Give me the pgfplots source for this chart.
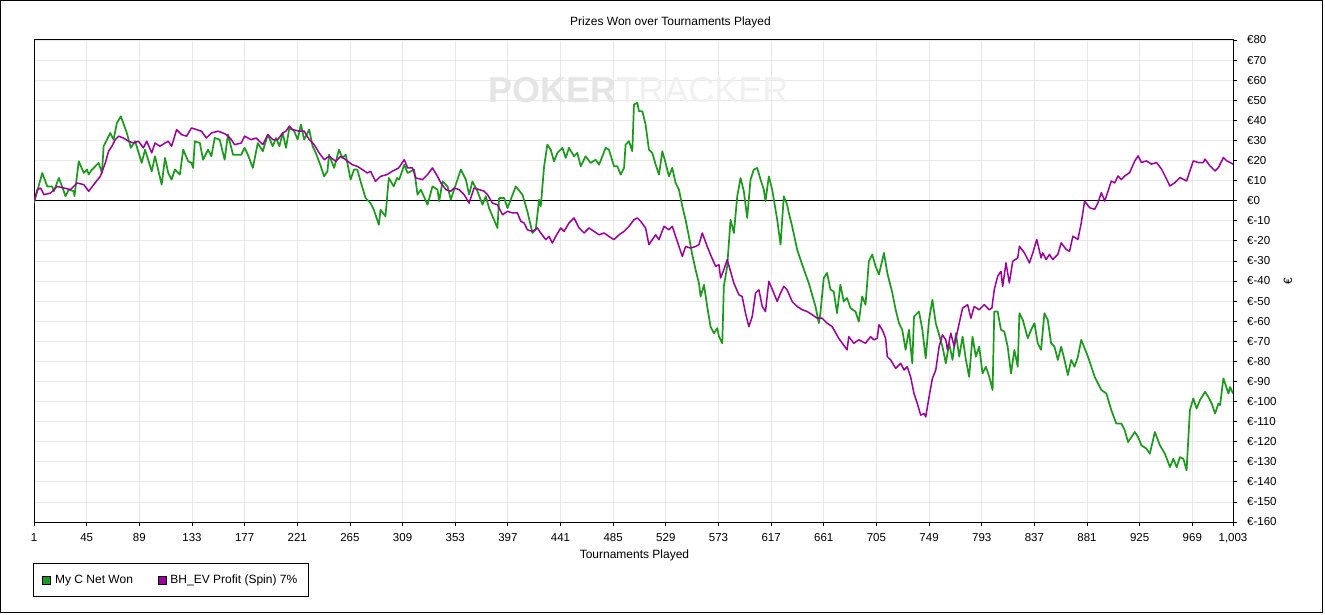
\documentclass[border=0pt]{standalone}
\usepackage{fontspec}
\setmainfont{Liberation Sans}
\usepackage{pgfplots}
\pgfplotsset{compat=1.18}
\definecolor{cgreen}{RGB}{26,154,26}
\definecolor{cpurple}{RGB}{158,0,158}
\definecolor{cgrid}{RGB}{232,232,232}
\begin{document}
\begin{tikzpicture}[x=1pt,y=1pt]
\path[use as bounding box] (-34,-92) rectangle (1291,522);
\draw[black, line width=1pt] (-33,-90.5) rectangle (1288.5,521);
\begin{axis}[
  at={(0,0)}, anchor=south west,
  scale only axis, width=1199pt, height=482pt,
  xmin=1, xmax=1003, ymin=-160, ymax=80,
  xtick={1,45,89,133,177,221,265,309,353,397,441,485,529,573,617,661,705,749,793,837,881,925,969,1003},
  xticklabels={1,45,89,133,177,221,265,309,353,397,441,485,529,573,617,661,705,749,793,837,881,925,969,{1,003}},
  ytick={-160,-150,...,80},
  yticklabel={€\pgfmathprintnumber{\tick}},
  /pgf/number format/assume math mode=true,
  yticklabel pos=right,
  xtick pos=bottom, ytick pos=right,
  tick align=outside,
  major tick length=4pt,
  grid=major, major grid style={cgrid, line width=0.8pt},
  axis line style={black, line width=1pt},
  tick style={black, line width=0.8pt},
  font=\fontsize{12}{14}\selectfont,
  tick label style={font=\fontsize{11.5}{13}\selectfont},
  xticklabel style={anchor=north, inner sep=0pt, yshift=-7pt},
  yticklabel style={anchor=west, inner sep=0pt, xshift=10pt},
  title={Prizes Won over Tournaments Played},
  every axis title/.style={at={(axis description cs:0.5,1)}, anchor=center, xshift=37pt, yshift=18pt},
  xlabel={Tournaments Played},
  every axis x label/.style={at={(axis description cs:0.5,0)}, anchor=center, xshift=1pt, yshift=-33pt},
  ylabel={€},
  every axis y label/.style={at={(axis description cs:1,0.5)}, anchor=center, xshift=55pt, rotate=90},
  legend columns=2,
  legend style={at={(axis description cs:0,0)}, anchor=north west, xshift=-1pt, yshift=-41pt,
    draw=black, line width=1pt, inner xsep=9pt, inner ysep=9.5pt,
    font=\fontsize{12}{14}\selectfont,
    /tikz/every even column/.append style={column sep=23pt}},
]
\node[font=\fontsize{36}{36}\selectfont\bfseries, inner sep=0pt] at (rel axis cs:0.504,0.896)
  {{\color{black!10}POKER}{\color{black!6}\mdseries TRACKER}};
\draw[black, line width=1pt] (axis cs:1,0) -- (axis cs:1003,0);
\addplot[cgreen, line width=1.7pt, line join=round,
  legend image code/.code={\draw[black, fill=cgreen, line width=0.6pt] (0pt,-4pt) rectangle (8pt,4pt); \path (9.5pt,0pt);}]
  coordinates {
(1,-1.2)(7.9,13.8)(12.1,7.1)(16.2,7.1)(17.6,4.7)(21.8,11.3)(25.9,4.7)(27.3,2.2)(30.1,5.5)(34.3,4.7)(34.8,2.2)
(38.4,19.6)(42.6,13.8)(45.3,15.5)(46.7,13)(49.5,15.5)(55,18.8)(57.8,13.8)(59.2,27.1)(64.7,33.7)(67.5,30.4)
(70.3,38.7)(73.6,42)(78.6,33.7)(81.9,26.3)(85.5,29.6)(91,18.8)(93.8,25.4)(99.4,14.6)(102.1,22.1)(107.7,8)
(110.5,21.3)(113.2,13.8)(116,10.5)(118.8,15.5)(122.9,13)(125.7,25.4)(129.9,19.6)(132.6,18.8)(134,16.3)
(135.4,29.6)(139.6,28.7)(142.3,20.4)(146.5,25.4)(149.2,22.1)(152,31.2)(156.2,30.4)(160.3,20.4)(163.1,32.9)
(167.3,22.9)(174.2,22.9)(177,26.3)(179.7,22.9)(183.9,16.3)(188,28.7)(192.2,24.6)(196.4,32.9)(200.5,27.1)
(203.3,31.2)(206.1,27.1)(208.8,33.7)(211.6,26.3)(214.4,36.2)(218.5,34.6)(221.3,30.4)(224.1,37.9)(226.8,30.4)
(231,35.4)(233.8,27.1)(236.5,23.8)(240.7,17.1)(243.5,12.1)(246.2,14.6)(247.6,22.9)(251.8,16.3)(255.9,25.4)
(258.7,21.3)(261.5,22.9)(265.6,10.5)(268.4,15.5)(271.2,15.5)(273.9,9.6)(278.1,1.3)(282.3,-1.2)(285,-4.5)
(289.2,-12)(290.6,-4.5)(294.7,-7.8)(297.5,11.3)(301.6,7.1)(304.4,11.3)
(306.2,10.5)(310.4,17.9)(313.2,13.8)(318.7,15.5)(321.5,3)(324.3,5.5)(329.9,-2)(334,7.1)(338.2,5.5)(339.6,-0.3)
(342.4,9.6)(346.6,7.1)(349.3,0.5)(352.1,5.5)(357.7,15.5)(361.9,10.5)(364.6,3)(367.4,9.6)(371.6,4.7)(375.8,-2)
(378.6,2.2)(381.3,-3.7)(388.3,-13.6)(389.7,1.3)(393.9,1.3)(396.7,-3.7)(399.4,0.5)(403.6,7.1)(409.2,3)(413.3,-5.3)
(417.5,-16.1)(420.3,-14.5)(423.1,0.5)(424.5,-2.8)(427.3,17.1)(430,27.9)(432.8,25.4)(435.6,19.6)(438.4,23.8)
(442.6,26.3)(445.4,21.3)(448.1,26.3)(452.3,22.1)(455.1,23.8)(457.9,17.1)(462,22.1)(466.2,18.8)(470.4,20.4)
(473.2,17.9)(476,22.1)(478.7,26.3)(481.5,25.4)(485.7,17.1)(488.5,17.1)(491.3,13)(494.1,16.3)(495.4,27.9)
(498.2,29.6)(501,24.6)(502.4,47.9)(505.2,48.7)(506.6,44.5)(509.4,44.5)(512.1,37.9)(514.9,25.4)(517.7,23.8)
(520.5,17.9)(523.3,13)(526.1,24.6)(528.8,18.8)(531.6,12.1)(534.4,16.3)(537.2,8.8)(540,5.5)(542.8,-2.8)
(545.5,-9.5)(548.3,-17.8)(551.1,-26.9)(553.9,-34.4)(556.7,-41.1)(558.1,-47.7)(560.9,-41.9)(563.6,-52.7)
(566.4,-62.7)(569.2,-66)(572,-63.5)(573.4,-67.6)(576.2,-71)(577.5,-42.7)(580.3,-32.7)(583.1,-9.5)(585.9,-16.1)
(588.7,2.2)(591.5,11.3)(594.2,4.7)(597,-8.6)(599.8,10.5)(602.6,15.5)(605.4,16.3)(608.2,10.5)(610.9,5.5)
(612.3,-0.3)(615.1,12.1)(617.9,5.5)(622.1,-9.5)(624.9,-21.9)(627.6,2.2)(630.4,-2)(631.8,-6.1)(634.6,-12.8)
(638.8,-24.4)(643,-31.9)(648.5,-41.1)(654.1,-52.7)(656.9,-61)
(658.2,-56)(661,-38.5)(663.8,-36)(666.6,-44.3)(669.3,-45.2)(672.1,-56)(674.9,-41.8)(677.7,-50.2)(680.5,-48.5)
(683.3,-53.5)(687.5,-55.2)(690.3,-60.2)(693.1,-47.7)(695.9,-51.8)(698.7,-30.2)(701.5,-26.8)(704.3,-32.7)
(707.1,-36.8)(711.3,-26)(714.1,-36)(718.3,-46)(721.1,-54.3)(723.9,-61)(726.6,-64.3)(729.4,-74.3)(732.2,-64.3)
(735,-81)(736.4,-57.7)(740.6,-55.2)(743.4,-64.3)(746.2,-78.5)(749,-59.3)(751.8,-49.3)(754.6,-61)(757.4,-66.8)
(760.2,-72.7)(763,-81)(765.8,-71)(768.6,-79.3)(771.4,-66)(774.2,-77.7)(777,-67.7)(779.8,-79.3)(782.5,-87.7)
(785.3,-67.7)(788.1,-77.7)(790.9,-72.7)(793.7,-86)(796.5,-82.7)(799.3,-87.7)(802.1,-94.3)(803.5,-55.2)
(806.3,-55.2)(809.1,-64.3)(811.9,-65.2)(814.7,-72.7)(817.5,-86)(820.3,-74.3)(823.1,-82.7)(824.5,-56)
(827.3,-59.3)(831.5,-68.5)(834.3,-64.3)(837.1,-61)(839.8,-71)(842.6,-74.3)(845.4,-56)(848.2,-59.3)(851,-71)
(853.8,-72.7)(856.6,-79.3)(859.4,-72.7)(862.2,-79.3)(865,-86.8)(867.8,-79.3)(870.6,-82.7)(873.4,-77.7)
(876.2,-69.3)(879,-73.5)(881.8,-77.7)(884.6,-82.7)(887.4,-87.7)(890.2,-91)(893,-94.3)(897.2,-96)(901.3,-104.3)
(905.5,-111)(909.7,-111)(912.5,-114.3)(915.3,-120.2)(918.1,-117.7)(920.9,-115.2)(923.7,-117.7)(926.5,-121.8)
(930.7,-123.5)(933.5,-126)(937.7,-115.2)(941.9,-121.8)(946.1,-126)(950.3,-132.7)(953.1,-128.5)(955.9,-132.7)
(958.7,-127.7)(961.5,-128.5)(964.2,-134.3)(967,-104.3)(969.8,-98.5)(972.6,-103.5)(975.4,-99.3)(979.6,-95.2)
(982.4,-97.7)(985.2,-101)(988,-106)(990.8,-101)(992.2,-101.8)(995,-88.5)(999.2,-96)(1000.6,-92.8)(1003,-96)
  };
\addlegendentry{My C Net Won}
\addplot[cpurple, line width=1.5pt, line join=round,
  legend image code/.code={\draw[black, fill=cpurple, line width=0.6pt] (0pt,-4pt) rectangle (8pt,4pt); \path (9.5pt,0pt);}]
  coordinates {
(1,-0.3)(3.8,5.5)(6.5,6.3)(9.3,3)(14.9,3.8)(20.4,7.1)(25.9,6.3)(31.5,5.5)(37,8.8)(42.6,8)(46.7,4.7)(50.9,8)
(56.4,12.1)(60.6,18.8)(63.3,24.6)(66.1,27.1)(68.9,30.4)(71.7,32.1)(75.8,31.2)(80,29.6)(84.1,28.7)(88.3,29.6)
(92.4,26.3)(95.2,29.6)(99.4,23.8)(102.1,28.7)(106.3,27.1)(110.5,28.7)(113.2,29.6)(116,27.1)(120.2,35.4)
(124.3,32.9)(128.5,32.1)(132.6,36.2)(136.8,35.4)(140.9,34.6)(145.1,31.2)(149.2,33.7)(154.8,34.6)(158.9,33.7)
(161.7,32.9)(165.9,30.4)(168.6,27.9)(174.2,28.7)(177,32.1)(182.5,30.4)(186.7,31.2)(192.2,27.9)(196.4,32.9)
(200.5,30.4)(204.7,30.4)(208.8,33.7)(211.6,34.6)(214.4,37.1)(217.1,35.4)(222.7,34.6)(226.8,34.6)(231,30.4)
(235.1,27.9)(239.3,23.8)(243.5,20.4)(247.6,22.1)(253.2,19.6)(257.3,22.1)(261.5,20.4)(267,17.9)(271.2,17.1)
(275.3,15.5)(279.5,13.8)(282.3,14.6)(286.4,9.6)(290.6,12.1)(296.1,13)(300.3,14.6)(305.8,16.3)
(310.4,20.4)(313.2,16.3)(317.3,16.3)(320.1,11.3)(325.7,10.5)(329.9,13)(334,16.3)(338.2,12.1)(341,8.8)
(345.2,5.5)(349.3,4.7)(352.1,6.3)(356.3,5.5)(360.5,3)(364.6,-1.2)(368.8,6.3)(373,5.5)(377.2,4.7)(380,3)
(384.1,-1.2)(388.3,-2)(392.5,-7)(396.7,-5.3)(400.8,-6.1)(405,-6.1)(407.8,-10.3)(410.6,-11.1)(413.3,-14.5)
(417.5,-15.3)(421.7,-13.6)(424.5,-16.1)(428.7,-19.4)(431.4,-17.8)(434.2,-21.1)(437,-17.8)(441.2,-13.6)
(444,-15.3)(448.1,-11.1)(452.3,-8.6)(456.5,-13.6)(460.7,-16.1)(464.8,-13.6)(469,-15.3)(473.2,-17)(477.4,-16.1)
(481.5,-17.8)(485.7,-19.4)(489.9,-17)(494.1,-15.3)(498.2,-12.8)(502.4,-9.5)(505.2,-8.6)(508,-10.3)(512.1,-13.6)
(514.9,-21.9)(517.7,-19.4)(520.5,-17)(523.3,-19.4)(527.5,-12.8)(531.6,-14.5)(534.4,-12.8)(537.2,-17.8)
(540,-22.8)(542.8,-27.8)(545.5,-22.8)(549.7,-23.6)(553.9,-22.8)(556.7,-21.9)(559.5,-16.1)(563.6,-22.8)
(566.4,-26.9)(570.6,-32.7)(573.4,-31.9)(574.8,-38.5)(577.5,-34.4)(580.3,-29.4)(583.1,-35.2)(585.9,-41.1)
(590.1,-46.9)(592.8,-47.7)(595.6,-56)(598.4,-62.7)(601.2,-57.7)(604,-46)(606.8,-44.4)(609.6,-52.7)(612.3,-55.2)
(615.1,-40.2)(619.3,-46)(622.1,-50.2)(624.9,-46)(627.6,-42.7)(630.4,-44.4)(634.6,-50.2)(638.8,-52.7)(643,-54.3)
(647.1,-55.2)(651.3,-56.8)(655.5,-58.5)(659.6,-58.5)(663.8,-61)(668,-62.7)
(673.5,-68.5)(680.5,-74.3)(681.9,-67.7)(686.1,-71)(690.3,-69.3)(695.9,-71)(700.1,-67.7)(702.9,-69.3)
(705.7,-68.5)(707.1,-61.8)(709.9,-64.3)(712.7,-68.5)(714.1,-77.7)(716.9,-79.3)(721.1,-83.5)(725.3,-81)
(728.1,-84.3)(730.8,-82.7)(733.6,-87.7)(736.4,-96)(739.2,-101)(742,-106.8)(744.8,-106)(746.2,-107.7)
(749,-97.7)(751.8,-88.5)(754.6,-84.3)(757.4,-72.7)(760.2,-66.8)(763,-69.3)(764.4,-74.3)(767.2,-66)(770,-72.7)
(774.2,-61)(777,-53.5)(781.2,-51.8)(784,-58.5)(786.7,-52.7)(790.9,-54.3)(795.1,-51.8)(799.3,-54.3)(801.5,-53.5)
(803.5,-44.3)(806.3,-37.7)(809.1,-35.2)(810.5,-42.7)(813.3,-31)(816.1,-41)(818.9,-30.2)(823.1,-28.5)
(824.5,-22.7)(828.7,-26)(832.9,-31)(835.7,-26)(839,-19.3)(842.6,-28.5)(844,-26)(846.8,-29.3)(849.6,-26.8)
(852.4,-29.3)(856.6,-26.8)(859.4,-21)(863.6,-24.3)(866.4,-25.2)(869.2,-17.7)(873.4,-19.3)(876.2,-11)
(879,-0.2)(883.2,-3.5)(887.4,-4.3)(890.2,-1)(893,4)(895.8,-0.2)(898.6,4.8)(901.3,9.8)(904.1,8.8)(906.9,12.3)
(909.7,10.5)(912.5,12.3)(916.7,14)(920.9,19.8)(923.7,22.3)(926.5,19)(930.7,19.8)(934.9,18.2)(939.1,19)
(943.3,15.7)(947.5,10.7)(950.3,7.3)(954.5,9)(958.7,11.5)(964.2,9.8)(967,14.8)(969.8,19.8)(974,19)(978.2,19)
(979.6,20.7)(983.8,17.3)(988,14.8)(990.8,16.5)(995,21.5)(997.8,19.8)(1000.6,19)(1003,18.2)
  };
\addlegendentry{BH\_EV Profit (Spin) 7\%}
\end{axis}
\end{tikzpicture}
\end{document}
